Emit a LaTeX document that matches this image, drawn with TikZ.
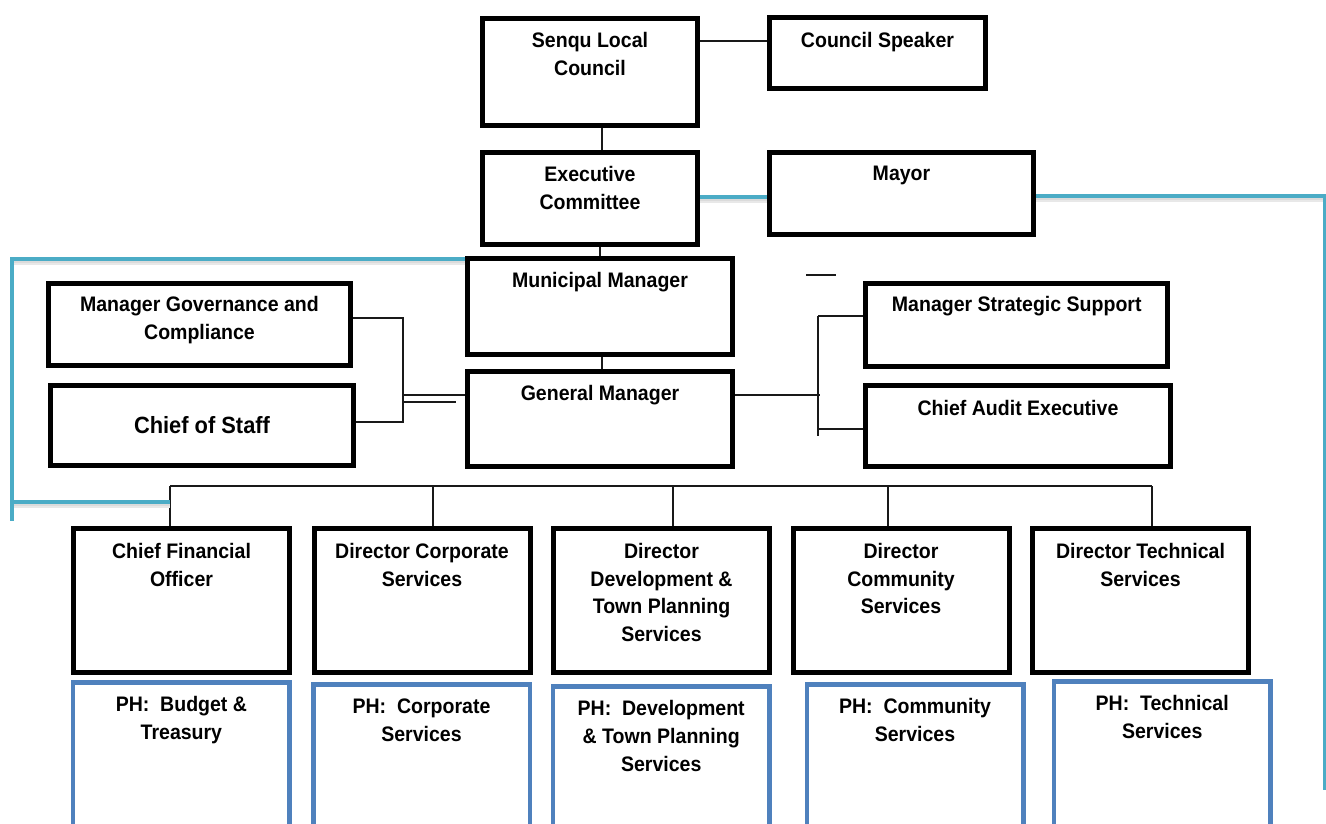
\documentclass[tikz,border=0pt]{standalone}
\usepackage{fontspec}
\setmainfont{Liberation Sans}[FakeStretch=0.93]
\usetikzlibrary{calc}
\definecolor{conblue}{HTML}{4BACC6}
\definecolor{phblue}{HTML}{4F81BD}
\begin{document}
\begin{tikzpicture}[x=1pt,y=-1pt,
  box/.style={draw=black, line width=5pt, inner sep=0pt},
  phbox/.style={draw=phblue, line width=4.5pt, inner sep=0pt},
  lbl/.style={anchor=north, inner sep=0pt, align=center, font=\fontsize{21}{27.7}\selectfont\bfseries},
  biglbl/.style={lbl, font=\fontsize{23.5}{28}\selectfont\bfseries},
  con/.style={line width=1.5pt, black!90},
  bcon/.style={line width=4pt, conblue},
  shd/.style={line width=5pt, black!9, transform canvas={yshift=-3pt}},
  shdb/.style={line width=3pt, black!14, transform canvas={yshift=-2.5pt}}
]
\useasboundingbox (0,0) rectangle (1326,823);
\fill[white] (0,0) rectangle (1326,823);
\clip (0,0) rectangle (1326,823);

% top boxes
\node[box, minimum width=215pt, minimum height=107pt] (slc) at (590,72) {};
\node[box, minimum width=216pt, minimum height=71pt] (spk) at (877.5,53) {};
\node[box, minimum width=215pt, minimum height=92pt] (exc) at (590,198.5) {};
\node[box, minimum width=264pt, minimum height=82pt] (may) at (901.5,193.5) {};
\node[box, minimum width=265pt, minimum height=96pt] (mm) at (600,306.5) {};
\node[box, minimum width=265pt, minimum height=95pt] (gm) at (600,419) {};
\node[box, minimum width=302pt, minimum height=83pt] (mss) at (1016.75,325) {};
\node[box, minimum width=305pt, minimum height=81pt] (cae) at (1018,426) {};
\node[box, minimum width=302pt, minimum height=82pt] (mgc) at (199.5,324.5) {};
\node[box, minimum width=303pt, minimum height=80pt] (cos) at (202,425.5) {};

% directors
\node[box, minimum width=216pt, minimum height=144pt] (d1) at (181.5,600.5) {};
\node[box, minimum width=216pt, minimum height=144pt] (d2) at (422,600.5) {};
\node[box, minimum width=216pt, minimum height=144pt] (d3) at (661.5,600.5) {};
\node[box, minimum width=216pt, minimum height=144pt] (d4) at (901,600.5) {};
\node[box, minimum width=216pt, minimum height=144pt] (d5) at (1140.5,600.5) {};

% portfolio heads
\node[phbox, minimum width=216.5pt, minimum height=165.5pt] (p1) at (181.4,765) {};
\node[phbox, minimum width=216.5pt, minimum height=163.5pt] (p2) at (421.5,766) {};
\node[phbox, minimum width=216.5pt, minimum height=161.5pt] (p3) at (661.2,767) {};
\node[phbox, minimum width=216.5pt, minimum height=163.5pt] (p4) at (915,766) {};
\node[phbox, minimum width=216.5pt, minimum height=166.5pt] (p5) at (1162.2,764.5) {};

% labels
\node[lbl] (slc-t) at ($(slc.north)+(0,16.5)$) {Senqu Local\\Council};
\node[lbl] (spk-t) at ($(spk.north)+(0,17.5)$) {Council Speaker};
\node[lbl] (exc-t) at ($(exc.north)+(0,16.5)$) {Executive\\Committee};
\node[lbl] (may-t) at ($(may.north)+(0,16)$) {Mayor};
\node[lbl] (mm-t) at ($(mm.north)+(0,16.5)$) {Municipal Manager};
\node[lbl] (gm-t) at ($(gm.north)+(0,16.5)$) {General Manager};
\node[lbl] (mss-t) at ($(mss.north)+(0,15.5)$) {Manager Strategic Support};
\node[lbl] (cae-t) at ($(cae.north)+(0,17)$) {Chief Audit Executive};
\node[lbl] (mgc-t) at ($(mgc.north)+(0,15.5)$) {Manager Governance and\\Compliance};
\node[biglbl] (cos-t) at ($(cos.north)+(0,33)$) {Chief of Staff};

\node[lbl] (d1-t) at ($(d1.north)+(0,17)$) {Chief Financial\\Officer};
\node[lbl] (d2-t) at ($(d2.north)+(0,17)$) {Director Corporate\\Services};
\node[lbl] (d3-t) at ($(d3.north)+(0,17)$) {Director\\Development \&\\Town Planning\\Services};
\node[lbl] (d4-t) at ($(d4.north)+(0,17)$) {Director\\Community\\Services};
\node[lbl] (d5-t) at ($(d5.north)+(0,17)$) {Director Technical\\Services};

\node[lbl] (p1-t) at ($(p1.north)+(0,16.5)$) {PH:\ \ Budget \&\\Treasury};
\node[lbl] (p2-t) at ($(p2.north)+(0,16.5)$) {PH:\ \ Corporate\\Services};
\node[lbl] (p3-t) at ($(p3.north)+(0,16.5)$) {PH:\ \ Development\\\& Town Planning\\Services};
\node[lbl] (p4-t) at ($(p4.north)+(0,16.5)$) {PH:\ \ Community\\Services};
\node[lbl] (p5-t) at ($(p5.north)+(0,16.5)$) {PH:\ \ Technical\\Services};

% junction coordinates
\coordinate (lj1) at (403,318);
\coordinate (lj2) at (403,422);
\coordinate (lj3) at (403,395);
\coordinate (lj4) at (403,402);
\coordinate (dbl) at (456,402);
\coordinate (rj0) at (820,395);
\coordinate (rj1) at (818,316);
\coordinate (rj2) at (818,436);
\coordinate (rj3) at (818,429);
\coordinate (s1) at (806,275);
\coordinate (s2) at (836,275);
\coordinate (busL) at (170,486);
\coordinate (busR) at (1152,486);
\coordinate (bl1) at (12,259);
\coordinate (bl2) at (12,521);
\coordinate (bl3) at (12,502);
\coordinate (bl4) at (170,502);
\coordinate (br1) at (1325,196);
\coordinate (br2) at (1325,790);

% thin black connectors
\draw[con] (slc.east |- 0,41) -- (spk.west |- 0,41);
\draw[con] (602,0 |- slc.south) -- (602,0 |- exc.north);
\draw[con] (600,0 |- exc.south) -- (600,0 |- mm.north);
\draw[con] (602,0 |- mm.south) -- (602,0 |- gm.north);
\draw[con] (mgc.east |- lj1) -- (lj1) -- (lj2) -- (cos.east |- lj2);
\draw[con] (lj3) -- (gm.west |- lj3);
\draw[con] (lj4) -- (dbl);
\draw[con] (gm.east |- rj0) -- (rj0);
\draw[con] (rj1) -- (rj2);
\draw[con] (rj1) -- (mss.west |- rj1);
\draw[con] (rj3) -- (cae.west |- rj3);
\draw[con] (s1) -- (s2);
\draw[con] (busL) -- (busR);
\draw[con] (busL) -- (170,0 |- d1.north);
\draw[con] (433,486) -- (433,0 |- d2.north);
\draw[con] (673,486) -- (673,0 |- d3.north);
\draw[con] (888,486) -- (888,0 |- d4.north);
\draw[con] (busR) -- (1152,0 |- d5.north);

% blue connectors with soft shadow
\foreach \s in {shd,shdb}{
  \draw[\s] (exc.east |- 0,197) -- (may.west |- 0,197);
  \draw[\s] (may.east |- br1) -- (br1);
  \draw[\s] (mm.west |- bl1) -- (bl1);
  \draw[\s] (bl3) -- (bl4);
}
\draw[bcon] (exc.east |- 0,197) -- (may.west |- 0,197);
\draw[bcon] (may.east |- br1) -- (br1) -- (br2);
\draw[bcon] (mm.west |- bl1) -- (bl1) -- (bl2);
\draw[bcon] (bl3) -- (bl4);
\end{tikzpicture}
\end{document}
